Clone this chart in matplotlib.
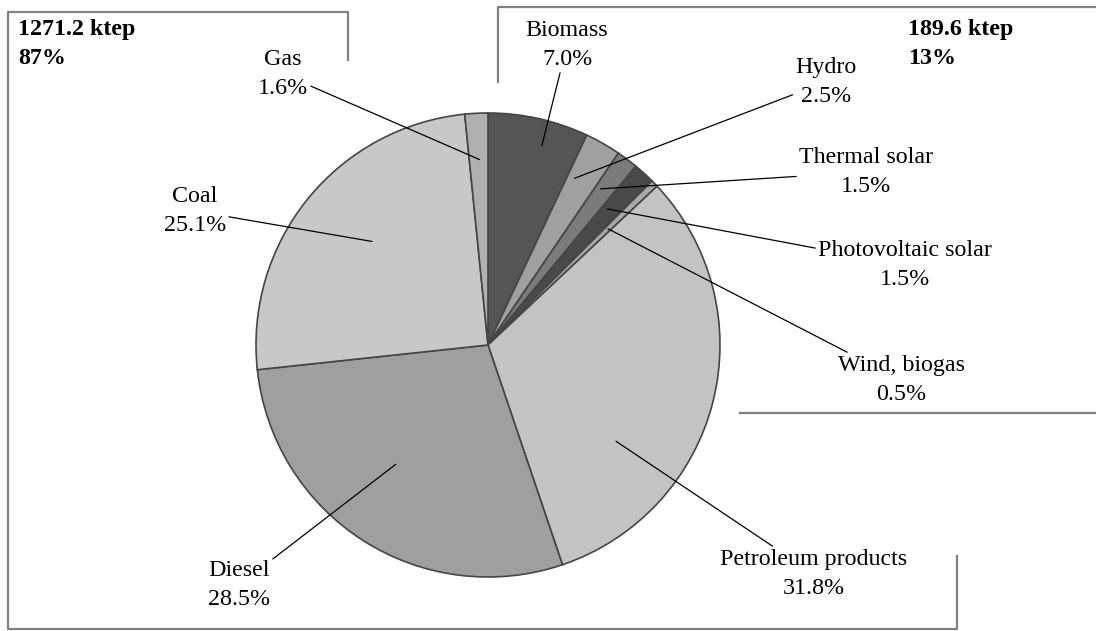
# Final energy consumption by source - pie with leader-line labels
import numpy as np
import matplotlib.pyplot as plt

sources = ['Biomass', 'Hydro', 'Thermal solar', 'Photovoltaic solar', 'Wind, biogas',
           'Petroleum products', 'Diesel', 'Coal', 'Gas']
shares = [7.0, 2.5, 1.5, 1.5, 0.5, 31.8, 28.5, 25.1, 1.6]
colors = ['#555555', '#a0a0a0', '#7b7b7b', '#4a4a4a', '#a8a8a8',
          '#c3c3c3', '#9f9f9f', '#c8c8c8', '#b0b0b0']

fossil_total = '1271.2 ktep\n87%'
renew_total = '189.6 ktep\n13%'

W, H = 1096, 631
plt.rcParams['font.family'] = ['Liberation Serif', 'DejaVu Serif']

fig = plt.figure(figsize=(W / 100, H / 100), dpi=100)
ax = fig.add_axes([0, 0, 1, 1])

cx, cy, R = 488, H - 345, 232
wedges, _ = ax.pie(shares, colors=colors, startangle=90, counterclock=False,
                   center=(cx, cy), radius=R,
                   wedgeprops=dict(edgecolor='#454545', linewidth=1.2))
ax.set_xlim(0, W)
ax.set_ylim(0, H)
ax.set_aspect('equal')
ax.axis('off')

# label centre (pixel coords, y from top), where the leader hits the slice:
# fraction across the slice (clockwise) and fraction of the radius
label_pos = [(567, 45), (826, 82), (866, 172), (905, 265), (901, 380),
             (814, 574), (239, 585), (195, 211), (283, 74)]
anchor = [(0.6, 0.89), (0.25, 0.81), (0.3, 0.83), (0.3, 0.78), (0.5, 0.72),
          (0.7, 0.69), (0.55, 0.65), (0.53, 0.67), (0.55, 0.8)]

start = 90.0
for name, v, (lx, ly), (fa, fr) in zip(sources, shares, label_pos, anchor):
    end = start - v * 3.6
    ang = np.radians(start + (end - start) * fa)
    px = cx + fr * R * np.cos(ang)
    py = cy + fr * R * np.sin(ang)
    ax.annotate(f'{name}\n{v:.1f}%', xy=(px, py), xytext=(lx, H - ly),
                ha='center', va='center', multialignment='center',
                fontsize=17.3, linespacing=1.5,
                arrowprops=dict(arrowstyle='-', color='black', lw=0.9,
                                shrinkA=0, shrinkB=0))
    start = end

# group boxes (partly hidden behind the plot area)
box = dict(color='#808080', lw=1.6, solid_capstyle='butt')
ax.plot([348, 348, 8, 8, 957, 957], [H - 61, H - 12, H - 12, H - 629, H - 629, H - 555], **box)
ax.plot([498, 498, 1096], [H - 83, H - 7, H - 7], **box)
ax.plot([739, 1096], [H - 413, H - 413], **box)

ax.text(18, H - 19, fossil_total, ha='left', va='top', fontsize=17.3,
        fontweight='bold', linespacing=1.5)
ax.text(908, H - 19, renew_total, ha='left', va='top', fontsize=17.3,
        fontweight='bold', linespacing=1.5)

plt.savefig('out.png', dpi=100)
